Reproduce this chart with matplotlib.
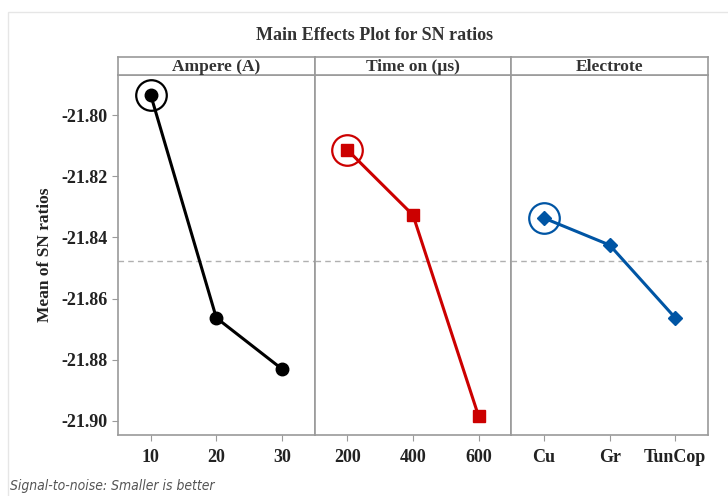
import numpy as np
import matplotlib
matplotlib.use("Agg")
import matplotlib.pyplot as plt
from matplotlib.patches import Rectangle

# data
factors = ["Ampere (A)", "Time on (\u00b5s)", "Electrote"]
levels = [["10", "20", "30"], ["200", "400", "600"], ["Cu", "Gr", "TunCop"]]
ampere = [-21.7935, -21.8663, -21.8830]
time_on = [-21.8114, -21.8327, -21.8984]
electrode = [-21.8337, -21.8425, -21.8663]
series = [ampere, time_on, electrode]
grand_mean = np.mean(ampere)

colors = ["#000000", "#cc0000", "#0055a4"]
markers = ["o", "s", "D"]
msizes = [9, 8, 7]

serif = ["Liberation Serif", "DejaVu Serif"]
frame = "#9a9a9a"

fig = plt.figure(figsize=(7.28, 4.96), dpi=100)
fig.patches.append(Rectangle((8 / 728, -0.1), 1.2, 1 - 12 / 496 + 0.1,
                             transform=fig.transFigure, fill=False,
                             edgecolor="#e6e6e6", lw=1))

left, right = 118 / 728, 708 / 728
bottom, top = 1 - 435 / 496, 1 - 75 / 496
strip_h = 18 / 496
w = (right - left) / 3

for i in range(3):
    ax = fig.add_axes([left + i * w, bottom, w, top - bottom])
    x = np.arange(3)
    ax.axhline(grand_mean, color="#b0b0b0", ls=(0, (4, 3)), lw=1, zorder=1)
    ax.plot(x, series[i], color=colors[i], lw=2.2, marker=markers[i],
            ms=msizes[i], zorder=3)
    ax.plot(x[0], series[i][0], marker="o", ms=22, mfc="none",
            mec=colors[i], mew=1.6, zorder=4)
    ax.set_xlim(-0.5, 2.5)
    ax.set_ylim(-21.9046, -21.7869)
    ax.set_xticks(x)
    ax.set_xticklabels(levels[i], fontfamily=serif, fontweight="bold",
                       fontsize=13, color="#222222")
    ax.tick_params(axis="x", length=4, color=frame, pad=6)
    for s in ax.spines.values():
        s.set_color(frame)
        s.set_linewidth(1.2)
    if i == 0:
        ax.set_yticks([-21.80, -21.82, -21.84, -21.86, -21.88, -21.90])
        ax.set_yticklabels([f"{v:.2f}" for v in ax.get_yticks()],
                           fontfamily=serif, fontweight="bold",
                           fontsize=13, color="#222222")
        ax.tick_params(axis="y", length=4, color=frame)
        ax.set_ylabel("Mean of SN ratios", fontfamily=serif,
                      fontweight="bold", fontsize=12.5, color="#222222",
                      labelpad=6)
    else:
        ax.set_yticks([])

    strip = fig.add_axes([left + i * w, top, w, strip_h])
    strip.set_xticks([])
    strip.set_yticks([])
    for s in strip.spines.values():
        s.set_color(frame)
        s.set_linewidth(1.2)
    strip.text(0.5, 0.42, factors[i], ha="center", va="center",
               fontfamily=serif, fontweight="bold", fontsize=12.5,
               color="#333333", transform=strip.transAxes)

fig.text(375 / 728, 1 - 35 / 496, "Main Effects Plot for SN ratios",
         ha="center", va="center", fontfamily=serif, fontweight="bold",
         fontsize=13, color="#333333")
fig.text(10 / 728, 1 - 486 / 496, "Signal-to-noise: Smaller is better",
         ha="left", va="center", fontfamily=["DejaVu Sans"],
         fontstretch="condensed", style="italic", fontsize=10,
         color="#555555")

fig.savefig("out.png", dpi=100)
